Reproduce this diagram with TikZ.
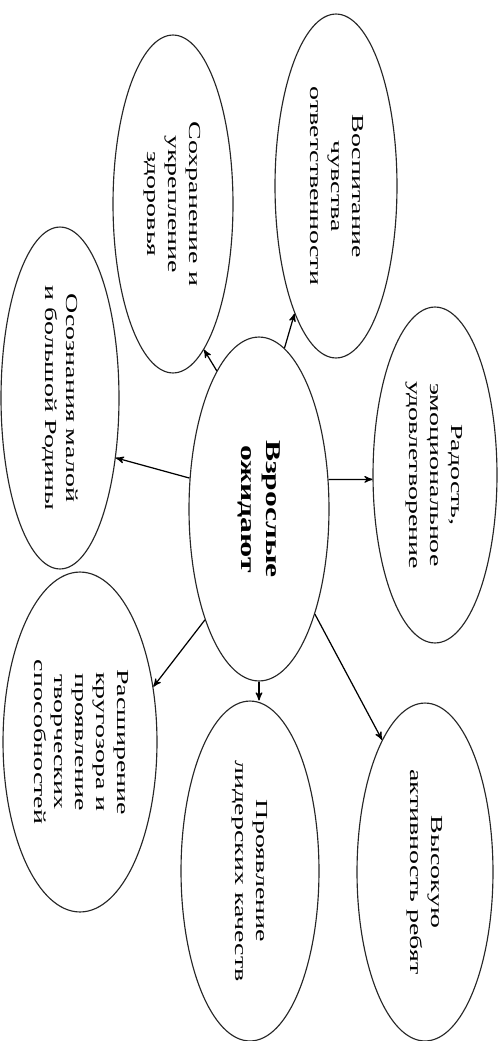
\documentclass[tikz,border=0pt]{standalone}
\usepackage{fontspec}
\setmainfont{Liberation Serif}
\usepackage{graphicx}
\usetikzlibrary{arrows,shapes.geometric}

% text turned to read from top to bottom, drawn out along the line
\newcommand{\vtext}[2][1.66]{\rotatebox{-90}{\scalebox{#1}[1]{\begin{tabular}{@{}c@{}}#2\end{tabular}}}}

\begin{document}
\begin{tikzpicture}[->,>=stealth',x=0.02cm,y=-0.02cm,line width=0.7pt,
  bubble/.style={ellipse, draw=black!85, line width=0.65pt, inner sep=0pt, minimum height=6.8cm,
    font=\fontsize{9.6pt}{11.9pt}\selectfont}]
  \useasboundingbox (0,0) rectangle (500,1041);

  \node (c)    [bubble, minimum width=2.8cm, minimum height=6.88cm,
                font=\bfseries\fontsize{12pt}{14.2pt}\selectfont]
               at (259,509) {\vtext[1.5]{Взрослые\\ожидают}};
  \node (vos)  [bubble, minimum width=2.44cm, minimum height=6.88cm] at (336,186)
               {\vtext{Воспитание\\чувства\\ответственности}};
  \node (soh)  [bubble, minimum width=2.4cm, minimum height=6.76cm] at (173,204)
               {\vtext{Сохранение и\\укрепление\\здоровья}};
  \node (osoz) [bubble, minimum width=2.36cm, minimum height=6.84cm] at (60,398)
               {\vtext{Осознания малой\\и большой Родины}};
  \node (ras)  [bubble, minimum width=3.08cm] at (80,742)
               {\vtext{Расширение\\кругозора и\\проявление\\творческих\\способностей}};
  \node (pro)  [bubble, minimum width=2.76cm] at (250,871)
               {\vtext{Проявление\\лидерских качеств}};
  \node (vys)  [bubble, minimum width=2.72cm, minimum height=6.76cm] at (425,872)
               {\vtext{Высокую\\активность ребят}};
  \node (rad)  [bubble, minimum width=2.48cm, minimum height=6.72cm] at (435,475)
               {\vtext{Радость,\\эмоциональное\\удовлетворение}};

  \draw (c.81.5)  -- (vos.252);
  \draw (c.107.7) -- (soh.282.4);
  \draw (c.156.1) -- (osoz.313);
  \draw (c.23.9)  -- (rad.184.6);
  \draw (c.244.5) -- (ras.37);
  \draw (c.south) -- (c.south |- pro.north);
  \draw (c.298.4) -- (vys.108.8);
\end{tikzpicture}
\end{document}
